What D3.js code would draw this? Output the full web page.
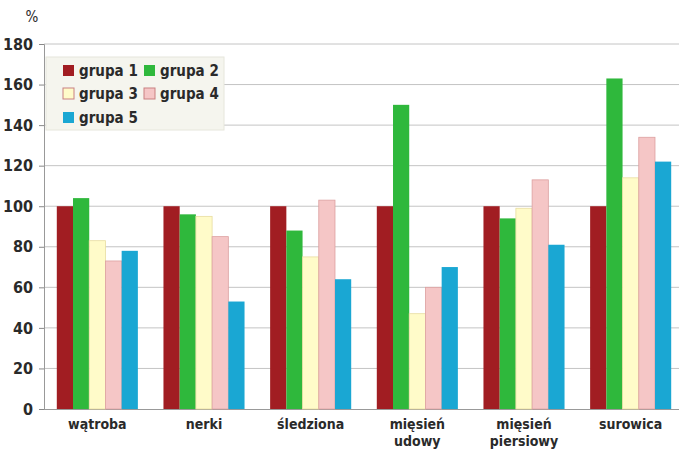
<!DOCTYPE html>
<html>
<head>
<meta charset="utf-8">
<script src="https://cdn.jsdelivr.net/npm/d3@7"></script>
<style>
  body { margin: 0; background: #fff; }
  text { font-family: "Liberation Sans Narrow", "DejaVu Sans Condensed", "Liberation Sans", sans-serif; font-weight: bold; fill: #2a2a2a; }
</style>
</head>
<body>
<div id="chart-area"></div>
<script>
// kategorie i serie
var categories = ["wątroba", "nerki", "śledziona", "mięsień udowy", "mięsień piersiowy", "surowica"];
var groups = ["grupa 1", "grupa 2", "grupa 3", "grupa 4", "grupa 5"];
var grupa1 = [100, 100, 100, 100, 100, 100];
var grupa2 = [104, 96, 88, 150, 94, 163];
var grupa3 = [83, 95, 75, 47, 99, 114];
var grupa4 = [73, 85, 103, 60, 113, 134];
var grupa5 = [78, 53, 64, 70, 81, 122];
var yTicks = [0, 20, 40, 60, 80, 100, 120, 140, 160, 180];

var series = [grupa1, grupa2, grupa3, grupa4, grupa5];
var fills = ["#a11d22", "#2fb83c", "#fffbc9", "#f5c6c6", "#1aa7d3"];
var strokes = ["none", "none", "#e8dca0", "#dca0a0", "none"];

var width = 679, height = 452;
var svg = d3.select("#chart-area")
    .append("svg")
    .attr("width", width)
    .attr("height", height);

var y = d3.scaleLinear()
    .domain([0, 180])
    .range([409, 44]);

var x0 = d3.scaleBand()
    .domain(categories)
    .range([44, 684])
    .paddingInner(0.24)
    .paddingOuter(0.12);

var x1 = d3.scaleBand()
    .domain(groups)
    .range([0, x0.bandwidth()]);

// siatka
svg.append("g")
    .selectAll("line")
    .data(yTicks.slice(1))
    .enter()
    .append("line")
    .attr("x1", 44)
    .attr("x2", width)
    .attr("y1", d => y(d))
    .attr("y2", d => y(d))
    .attr("stroke", "#c4c4c4")
    .attr("stroke-width", 1);

// os y
var yAxis = d3.axisLeft(y)
    .tickValues(yTicks)
    .tickSize(5)
    .tickPadding(6);

var gy = svg.append("g")
    .attr("transform", "translate(44,0)")
    .call(yAxis);
gy.select(".domain").attr("stroke", "#999");
gy.selectAll(".tick line").attr("stroke", "#888");
gy.selectAll(".tick text")
    .style("font-size", "16px")
    .attr("fill", "#2a2a2a");

svg.append("text")
    .attr("x", 32)
    .attr("y", 22)
    .attr("text-anchor", "middle")
    .style("font-size", "15px")
    .style("font-weight", "normal")
    .text("%");

// os x
svg.append("line")
    .attr("x1", 44)
    .attr("x2", width)
    .attr("y1", y(0) + 0.5)
    .attr("y2", y(0) + 0.5)
    .attr("stroke", "#999");

// slupki
var catGroups = svg.append("g")
    .selectAll("g")
    .data(categories)
    .enter()
    .append("g")
    .attr("transform", d => "translate(" + x0(d) + ",0)");

catGroups.selectAll("rect")
    .data((c, ci) => groups.map((g, gi) => ({ g: g, gi: gi, v: series[gi][ci] })))
    .enter()
    .append("rect")
    .attr("x", d => x1(d.g))
    .attr("y", d => y(d.v))
    .attr("width", x1.bandwidth())
    .attr("height", d => y(0) - y(d.v))
    .attr("fill", d => fills[d.gi])
    .attr("stroke", d => strokes[d.gi])
    .attr("stroke-width", 0.8);

// etykiety kategorii
var labels = svg.append("g")
    .selectAll("text")
    .data(categories)
    .enter()
    .append("text")
    .attr("x", d => x0(d) + x0.bandwidth() / 2)
    .attr("y", 429)
    .attr("text-anchor", "middle")
    .style("font-size", "14px");

labels.each(function(d) {
    var parts = d.split(" ");
    var t = d3.select(this);
    parts.forEach((p, i) => {
        t.append("tspan")
            .attr("x", x0(d) + x0.bandwidth() / 2)
            .attr("dy", i === 0 ? 0 : 17)
            .text(p);
    });
});

// legenda
var legend = svg.append("g");
legend.append("rect")
    .attr("x", 46)
    .attr("y", 57)
    .attr("width", 178)
    .attr("height", 73)
    .attr("fill", "#f5f5ee")
    .attr("stroke", "#e6e6dc");

var legendPos = [[63, 71], [144, 71], [63, 94], [144, 94], [63, 118]];
var items = legend.selectAll("g.item")
    .data(groups)
    .enter()
    .append("g")
    .attr("class", "item")
    .attr("transform", (d, i) => "translate(" + legendPos[i][0] + "," + legendPos[i][1] + ")");

items.append("rect")
    .attr("x", 0)
    .attr("y", -6)
    .attr("width", 11)
    .attr("height", 11)
    .attr("fill", (d, i) => fills[i])
    .attr("stroke", (d, i) => strokes[i] === "none" ? "none" : "#c98080");

items.append("text")
    .attr("x", 16)
    .attr("y", 5)
    .style("font-size", "15px")
    .text(d => d);
</script>
</body>
</html>
